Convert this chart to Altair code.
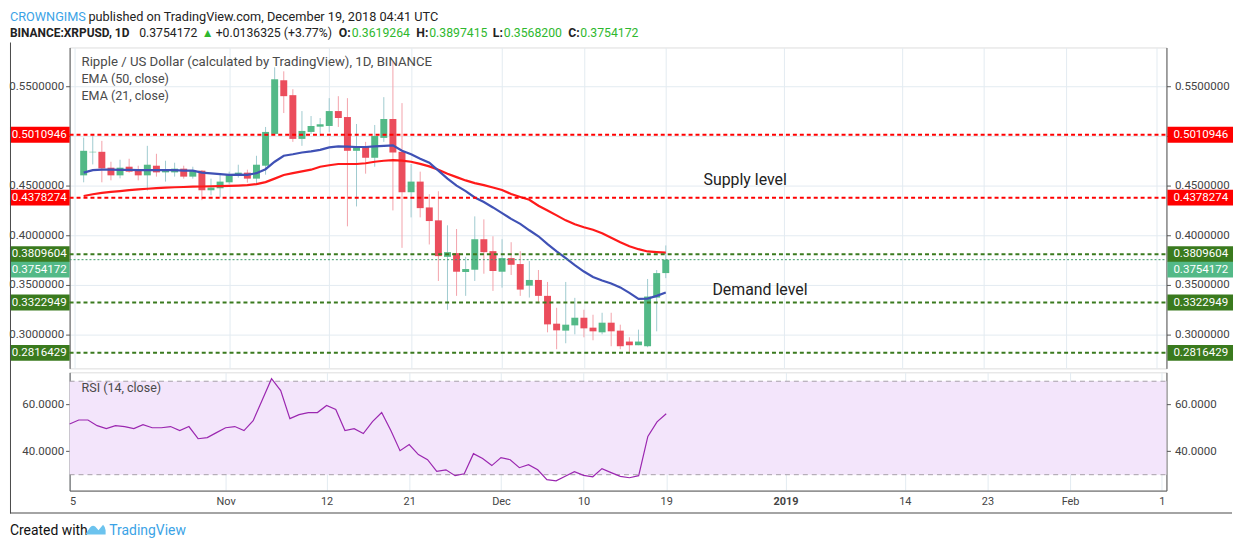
import altair as alt
import pandas as pd

# ---------------- data ----------------
# day index: 0 = Oct 15, 2018 ; candles from Oct 16 (day 1) to Dec 19 (day 65)
days = list(range(1, 66))
opens = [0.4603, 0.4835, 0.4840, 0.4680, 0.4603, 0.4690, 0.4650, 0.4603, 0.4700, 0.4633,
         0.4633, 0.4670, 0.4590, 0.4650, 0.4453, 0.4473, 0.4533, 0.4600, 0.4630, 0.4570,
         0.4700, 0.5020, 0.5560, 0.5410, 0.4970, 0.5040, 0.5093, 0.5100, 0.5250, 0.5190,
         0.4850, 0.4890, 0.4780, 0.4980, 0.5170, 0.4840, 0.4433, 0.4540, 0.4280, 0.4150,
         0.3783, 0.3820, 0.3630, 0.3653, 0.3960, 0.3840, 0.3633, 0.3770, 0.3710, 0.3493,
         0.3550, 0.3390, 0.3110, 0.3040, 0.3093, 0.3170, 0.3070, 0.3023, 0.3120, 0.3040,
         0.2930, 0.2893, 0.2883, 0.3373, 0.3619264]
highs = [0.4983, 0.5007, 0.4950, 0.4740, 0.4760, 0.4770, 0.4700, 0.4900, 0.4820, 0.4750,
         0.4730, 0.4700, 0.4690, 0.4655, 0.4570, 0.4610, 0.4640, 0.4710, 0.4660, 0.4800,
         0.5090, 0.5690, 0.5650, 0.5470, 0.5250, 0.5200, 0.5180, 0.5380, 0.5400, 0.5380,
         0.5120, 0.4940, 0.5110, 0.5390, 0.5750, 0.5330, 0.4717, 0.4640, 0.4413, 0.4443,
         0.4100, 0.4063, 0.3783, 0.4190, 0.4160, 0.3990, 0.3960, 0.3930, 0.3840, 0.3740,
         0.3650, 0.3530, 0.3270, 0.3530, 0.3370, 0.3250, 0.3200, 0.3220, 0.3220, 0.3100,
         0.2973, 0.3050, 0.3560, 0.3650, 0.3897415]
lows = [0.4533, 0.4713, 0.4533, 0.4553, 0.4573, 0.4630, 0.4553, 0.4450, 0.4590, 0.4540,
        0.4590, 0.4570, 0.4570, 0.4353, 0.4403, 0.4380, 0.4513, 0.4580, 0.4530, 0.4507,
        0.4610, 0.5010, 0.5230, 0.4940, 0.4900, 0.5020, 0.5000, 0.5040, 0.5090, 0.4090,
        0.4290, 0.4620, 0.4690, 0.4940, 0.4250, 0.3873, 0.4180, 0.4180, 0.3907, 0.3540,
        0.3250, 0.3390, 0.3390, 0.3540, 0.3613, 0.3440, 0.3473, 0.3600, 0.3390, 0.3373,
        0.3323, 0.3023, 0.2853, 0.2913, 0.3003, 0.2973, 0.2943, 0.3003, 0.2883, 0.2853,
        0.2813, 0.2893, 0.2873, 0.3033, 0.3568200]
closes = [0.4850, 0.4840, 0.4673, 0.4603, 0.4680, 0.4640, 0.4603, 0.4710, 0.4633, 0.4650,
          0.4670, 0.4590, 0.4650, 0.4453, 0.4480, 0.4540, 0.4610, 0.4630, 0.4570, 0.4710,
          0.5040, 0.5570, 0.5400, 0.4970, 0.5050, 0.5100, 0.5117, 0.5250, 0.5180, 0.4850,
          0.4890, 0.4780, 0.5000, 0.5170, 0.4833, 0.4433, 0.4540, 0.4273, 0.4143, 0.3790,
          0.3830, 0.3633, 0.3660, 0.3960, 0.3830, 0.3640, 0.3770, 0.3703, 0.3453, 0.3550,
          0.3390, 0.3103, 0.3043, 0.3100, 0.3170, 0.3063, 0.3033, 0.3120, 0.3033, 0.2883,
          0.2893, 0.2930, 0.3383, 0.3619, 0.3754172]
ema21 = [0.4630, 0.4655, 0.4660, 0.4660, 0.4658, 0.4658, 0.4655, 0.4657, 0.4655, 0.4655,
         0.4655, 0.4650, 0.4650, 0.4630, 0.4622, 0.4615, 0.4608, 0.4610, 0.4608, 0.4625,
         0.4665, 0.4740, 0.4800, 0.4815, 0.4833, 0.4845, 0.4860, 0.4885, 0.4895, 0.4893,
         0.4888, 0.4888, 0.4895, 0.4900, 0.4905, 0.4850, 0.4815, 0.4770, 0.4730, 0.4650,
         0.4570, 0.4500, 0.4445, 0.4380, 0.4334, 0.4280, 0.4223, 0.4165, 0.4115, 0.4050,
         0.3990, 0.3910, 0.3838, 0.3770, 0.3700, 0.3635, 0.3580, 0.3545, 0.3515, 0.3475,
         0.3420, 0.3360, 0.3363, 0.3390, 0.3423]
ema50 = [0.4395, 0.4413, 0.4427, 0.4437, 0.4445, 0.4455, 0.4462, 0.4468, 0.4474, 0.4480,
         0.4483, 0.4486, 0.4489, 0.4491, 0.4493, 0.4495, 0.4497, 0.4500, 0.4505, 0.4515,
         0.4535, 0.4570, 0.4607, 0.4625, 0.4643, 0.4660, 0.4690, 0.4705, 0.4717, 0.4717,
         0.4717, 0.4725, 0.4740, 0.4750, 0.4757, 0.4752, 0.4740, 0.4718, 0.4693, 0.4660,
         0.4620, 0.4585, 0.4552, 0.4525, 0.4505, 0.4480, 0.4455, 0.4415, 0.4385, 0.4357,
         0.4297, 0.4250, 0.4200, 0.4150, 0.4110, 0.4080, 0.4055, 0.4020, 0.3975, 0.3930,
         0.3890, 0.3860, 0.3837, 0.3830, 0.3825]
# RSI (14, close) from Oct 15 (day 0) to Dec 19 (day 65)
rsi_days = list(range(0, 66))
rsi = [51.7, 53.4, 53.4, 51.0, 49.7, 51.0, 50.6, 49.7, 51.4, 50.1,
       50.1, 50.6, 48.9, 50.6, 45.4, 45.9, 48.0, 50.1, 50.6, 48.9,
       53.1, 62.1, 71.1, 66.0, 54.0, 55.7, 56.6, 56.6, 59.6, 57.9,
       48.9, 49.7, 47.6, 52.7, 56.6, 48.9, 40.3, 42.9, 38.6, 36.4,
       31.4, 32.1, 29.6, 30.4, 39.0, 36.9, 33.9, 37.3, 36.4, 33.0,
       34.3, 32.1, 27.9, 27.4, 29.3, 31.3, 29.7, 29.1, 32.6, 30.9,
       29.3, 28.7, 29.6, 46.4, 52.6, 56.1]

supply_levels = [0.5010946, 0.4378274]
demand_levels = [0.3809604, 0.3322949, 0.2816429]
last_price = 0.3754172

price_ticks = [0.30, 0.35, 0.40, 0.45, 0.50, 0.55]
rsi_ticks = [40, 60]
rsi_band_edges = [30, 70]
x_tick_days = [0, 17, 28, 37, 47, 56, 65, 78, 91, 100, 109, 119]
x_tick_labels = ["5", "Nov", "12", "21", "Dec", "10", "19", "2019", "14", "23", "Feb", "1"]

# ---------------- layout / style ----------------
W, H_MAIN, H_RSI, GAP = 1104, 323, 119, 4
X_DOM = [0, 119.5]
Y_DOM = [0.266, 0.589]
RSI_DOM = [23.2, 73.8]
FONT = "Roboto"
AXFS = 11.6
GRID = "#e3ebf1"
AXC = "#555555"
UP, DOWN = "#53b987", "#eb4d5c"
UPW, DOWNW = "#9fcbd0", "#f3a2aa"
RED, DKGREEN = "#ff0000", "#3a7a1e"

candles = pd.DataFrame(dict(day=days, o=opens, h=highs, l=lows, c=closes))
ema = pd.DataFrame(dict(day=days, e21=ema21, e50=ema50))
rsi_df = pd.DataFrame(dict(day=rsi_days, rsi=rsi))
supply = pd.DataFrame(dict(price=supply_levels, label=[f"{p:.7f}" for p in supply_levels]))
demand = pd.DataFrame(dict(price=demand_levels, label=[f"{p:.7f}" for p in demand_levels]))
last_df = pd.DataFrame(dict(price=[last_price], label=[f"{last_price:.7f}"]))

xs = alt.Scale(domain=X_DOM, nice=False, zero=False)
ys = alt.Scale(domain=Y_DOM, nice=False, zero=False)
rs = alt.Scale(domain=RSI_DOM, nice=False, zero=False)


def Y(field, scale, axis=None):
    return alt.Y(field, scale=scale, axis=axis)


x_axis_top = alt.Axis(values=x_tick_days, labels=False, ticks=False, domain=False,
                      grid=True, gridColor=GRID, title=None)
lab_expr = "".join([f"datum.value == {d} ? '{t}' : " for d, t in zip(x_tick_days, x_tick_labels)]) + "''"
x_axis_bot = alt.Axis(values=x_tick_days, labelExpr=lab_expr, ticks=False, domain=True,
                      domainColor=AXC, grid=True, gridColor=GRID, title=None,
                      labelFont=FONT, labelFontSize=11, labelColor="#444", labelPadding=5,
                      labelFontWeight={"condition": {"test": "datum.value == 78", "value": "bold"},
                                       "value": "normal"})

price_lab = "abs(datum.value - 0.5) < 0.000001 ? '' : format(datum.value, '.7f')"
y_axis_left = alt.Axis(values=price_ticks, labelExpr=price_lab, orient="left", title=None,
                       grid=True, gridColor=GRID, tickSize=4, tickColor=AXC, domainColor=AXC,
                       labelFont=FONT, labelFontSize=AXFS, labelColor="#444", labelPadding=2)
y_axis_right = alt.Axis(values=price_ticks, labelExpr=price_lab, orient="right", title=None,
                        grid=False, tickSize=4, tickColor=AXC, domainColor=AXC,
                        labelFont=FONT, labelFontSize=AXFS, labelColor="#444", labelPadding=4)

up_cond = "datum.c >= datum.o"
base = alt.Chart(candles)
wicks = base.mark_rule(strokeWidth=1).encode(
    x=alt.X("day:Q", scale=xs, axis=x_axis_top),
    y=Y("l:Q", ys, y_axis_left),
    y2="h:Q",
    color=alt.condition(up_cond, alt.value(UPW), alt.value(DOWNW)),
)
bodies = base.mark_bar(width=7, opacity=1).encode(
    x=alt.X("day:Q", scale=xs),
    y=Y("o:Q", ys, y_axis_right),
    y2="c:Q",
    color=alt.condition(up_cond, alt.value(UP), alt.value(DOWN)),
)
ema_base = alt.Chart(ema)
ema21_line = ema_base.mark_line(color="#3f51b5", strokeWidth=2.2).encode(
    x=alt.X("day:Q", scale=xs), y=Y("e21:Q", ys))
ema50_line = ema_base.mark_line(color="#ff1a1a", strokeWidth=2.2).encode(
    x=alt.X("day:Q", scale=xs), y=Y("e50:Q", ys))


def level_layers(df, color, y_off=0, rule=True, dash=(4, 3), width=2):
    b = alt.Chart(df)
    out = []
    if rule:
        out.append(b.mark_rule(strokeWidth=width, strokeDash=list(dash), color=color).encode(
            x=alt.value(0), x2=alt.value(W), y=Y("price:Q", ys)))
    out += [
        b.mark_tick(orient="horizontal", size=60, thickness=16, color=color, opacity=1, yOffset=y_off).encode(
            x=alt.value(-30), y=Y("price:Q", ys)),
        b.mark_tick(orient="horizontal", size=66, thickness=16, color=color, opacity=1, yOffset=y_off).encode(
            x=alt.value(W + 34), y=Y("price:Q", ys)),
        b.mark_text(align="right", baseline="middle", color="white", font=FONT, fontSize=AXFS,
                    yOffset=y_off).encode(x=alt.value(-3), y=Y("price:Q", ys), text="label:N"),
        b.mark_text(align="left", baseline="middle", color="white", font=FONT, fontSize=AXFS,
                    yOffset=y_off).encode(x=alt.value(W + 7), y=Y("price:Q", ys), text="label:N"),
    ]
    return out


last_rule = alt.Chart(last_df).mark_rule(strokeWidth=1, strokeDash=[2, 2], color="#3c9a68").encode(
    x=alt.value(0), x2=alt.value(W), y=Y("price:Q", ys))


def txt(s, x, y, color="#222", size=13, weight="normal", align="left", font=FONT):
    return alt.Chart(alt.Data(values=[{}])).mark_text(
        align=align, baseline="middle", color=color, fontSize=size, fontWeight=weight, font=font
    ).encode(x=alt.value(x), y=alt.value(y), text=alt.value(s))


def bar_px(x1, x2, y1, y2, color="#4a4a4a"):
    return alt.Chart(alt.Data(values=[{}])).mark_rect(color=color, opacity=1).encode(
        x=alt.value(x1), x2=alt.value(x2), y=alt.value(y1), y2=alt.value(y2))


# header (relative to main plot's top-left corner; plot left = page x 68, top = page y 45)
L1, L2, HS = -31, -15, 12.3
header = [
    txt("CROWNGIMS", -60, L1, color="#3ba3e6", size=12.8),
    txt("published on TradingView.com, December 19, 2018 04:41 UTC", 19, L1, size=12.8),
    txt("BINANCE:XRPUSD, 1D", -60, L2, weight="bold", size=12),
    txt("0.3754172", 70, L2, size=HS),
    txt("▲", 133, L2, color="#2eb82e", size=12),
    txt("+0.0136325 (+3.77%)", 147, L2, size=HS),
    txt("O:", 271, L2, weight="bold", size=HS),
    txt("0.3619264", 284, L2, color="#2eb82e", size=HS),
    txt("H:", 349, L2, weight="bold", size=HS),
    txt("0.3897415", 362, L2, color="#2eb82e", size=HS),
    txt("L:", 426, L2, weight="bold", size=HS),
    txt("0.3568200", 437, L2, color="#2eb82e", size=HS),
    txt("C:", 502, L2, weight="bold", size=HS),
    txt("0.3754172", 514, L2, color="#2eb82e", size=HS),
]
legend_txt = [
    txt("Ripple / US Dollar (calculated by TradingView), 1D, BINANCE", 12, 15, color="#4a4a4a", size=13.3),
    txt("EMA (50, close)", 12, 32, color="#4a4a4a", size=12.6),
    txt("EMA (21, close)", 12, 49, color="#4a4a4a", size=12.6),
    txt("Supply level", 638, 133, size=16),
    txt("Demand level", 647, 244, size=16),
]

main = alt.layer(
    wicks, bodies, ema50_line, ema21_line,
    *level_layers(supply, RED), last_rule, *level_layers(demand, DKGREEN),
    *level_layers(last_df, UP, y_off=10, rule=False),
    *legend_txt, *header,
).resolve_axis(y="independent").properties(width=W, height=H_MAIN)

# ---------------- RSI pane ----------------
rsi_band = pd.DataFrame(dict(lo=[rsi_band_edges[0]], hi=[rsi_band_edges[1]]))
band = alt.Chart(rsi_band).mark_rect(color="#f3e5fb").encode(
    x=alt.value(0), x2=alt.value(W), y=Y("lo:Q", rs), y2="hi:Q")
band_lines = alt.Chart(pd.DataFrame(dict(v=rsi_band_edges))).mark_rule(
    color="#a59fa8", strokeDash=[5, 4], strokeWidth=1).encode(
    x=alt.value(0), x2=alt.value(W), y=Y("v:Q", rs))
rsi_lab = "format(datum.value, '.4f')"
rsi_line = alt.Chart(rsi_df).mark_line(color="#9b27b0", strokeWidth=1.2).encode(
    x=alt.X("day:Q", scale=xs, axis=x_axis_bot),
    y=Y("rsi:Q", rs, alt.Axis(values=rsi_ticks, labelExpr=rsi_lab, orient="left", title=None,
                              grid=True, gridColor="#dcd4e6", tickSize=4, tickColor=AXC,
                              domainColor=AXC, labelFont=FONT, labelFontSize=AXFS,
                              labelColor="#444", labelPadding=2)),
)
rsi_right = alt.Chart(rsi_df).mark_line(opacity=0).encode(
    x=alt.X("day:Q", scale=xs),
    y=Y("rsi:Q", rs, alt.Axis(values=rsi_ticks, labelExpr=rsi_lab, orient="right", title=None,
                              grid=False, tickSize=4, tickColor=AXC, domainColor=AXC,
                              labelFont=FONT, labelFontSize=AXFS, labelColor="#444",
                              labelPadding=4)),
)
rsi_title = txt("RSI (14, close)", 12, 16, color="#4a4a4a", size=12.6)
footer = [
    txt("Created with", -60, 160, color="#111", size=14),
    txt("TradingView", 40, 160, color="#3ba3e6", size=14),
]
logo = alt.Chart(alt.Data(values=[{}])).mark_point(
    shape="M-1,0.5 L-0.55,-0.15 Q-0.3,-0.5 0,-0.25 L0.3,0.1 L0.75,-0.45 Q1,-0.2 1,0.1 L1,0.5 Z",
    size=420, filled=True, color="#6cc3ee", opacity=1).encode(x=alt.value(26), y=alt.value(158))
# outer frame of the chart widget: left edge and bottom edge (thin filled bars)
FRAME_B = 141
frame = [
    bar_px(-60, -59, -H_MAIN - GAP - 5, FRAME_B + 1),
    bar_px(-60, W + 66, FRAME_B, FRAME_B + 1),
]

rsi_pane = alt.layer(band, band_lines, rsi_line, rsi_right, rsi_title, *footer, logo, *frame).resolve_axis(
    y="independent").properties(width=W, height=H_RSI)

chart = alt.vconcat(main, rsi_pane, spacing=GAP, bounds="flush").properties(padding=0).configure_view(
    stroke=AXC, strokeWidth=1).configure(background="white")

chart.save("out.html", embed_options={"renderer": "svg", "actions": False})
